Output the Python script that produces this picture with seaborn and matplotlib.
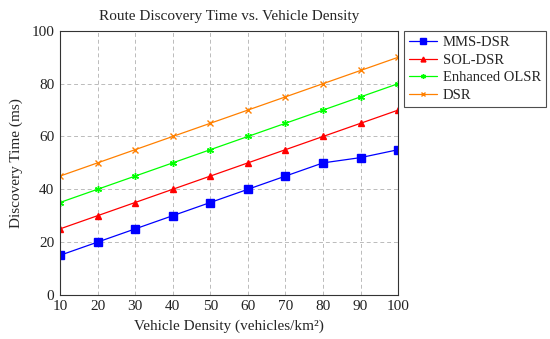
import matplotlib
matplotlib.use("Agg")
import matplotlib.pyplot as plt
import seaborn as sns
import pandas as pd

density = [10, 20, 30, 40, 50, 60, 70, 80, 90, 100]
mms_dsr = [15, 20, 25, 30, 35, 40, 45, 50, 52, 55]
sol_dsr = [25, 30, 35, 40, 45, 50, 55, 60, 65, 70]
enh_olsr = [35, 40, 45, 50, 55, 60, 65, 70, 75, 80]
dsr = [45, 50, 55, 60, 65, 70, 75, 80, 85, 90]
series_names = ["MMS-DSR", "SOL-DSR", "Enhanced OLSR", "DSR"]

sns.set_theme(style="white")
plt.rcParams['font.family'] = ['Liberation Serif', 'DejaVu Serif']

df = pd.DataFrame({
    "x": density * 4,
    "y": mms_dsr + sol_dsr + enh_olsr + dsr,
    "series": [n for n in series_names for _ in density],
})

colors = {"MMS-DSR": "#0000ff", "SOL-DSR": "#ff0000", "Enhanced OLSR": "#00ff00", "DSR": "#ff8000"}
markers = {"MMS-DSR": "s", "SOL-DSR": "^", "Enhanced OLSR": (6, 2, 0), "DSR": "x"}
msizes = {"MMS-DSR": 6, "SOL-DSR": 5, "Enhanced OLSR": 5, "DSR": 5}

fig = plt.figure(figsize=(5.5, 3.39), dpi=100)
ax = fig.add_axes([0.109, 0.130, 0.615, 0.779])

for name in series_names:
    sub = df[df.series == name]
    sns.lineplot(data=sub, x="x", y="y", ax=ax, color=colors[name], marker=markers[name],
                 markersize=msizes[name], markeredgecolor=colors[name], markerfacecolor=colors[name],
                 markeredgewidth=1.0, linewidth=0.9, label=name, legend=False)

ax.set_xlim(10, 100)
ax.set_ylim(0, 100)
ax.set_xticks(density)
ax.set_yticks([0, 20, 40, 60, 80, 100])
ax.grid(True, linestyle=(0, (4, 3)), color="#bbbbbb", linewidth=0.7)
for s in ax.spines.values():
    s.set_color("#333333")
    s.set_linewidth(0.8)
ax.tick_params(axis="both", labelsize=11, length=0, pad=4, colors="#222222")
ax.set_xlabel("Vehicle Density (vehicles/km²)", fontsize=11, labelpad=4)
ax.set_ylabel("Discovery Time (ms)", fontsize=11, labelpad=6)
ax.set_title("Route Discovery Time vs. Vehicle Density", fontsize=11, pad=8)

handles, labels = ax.get_legend_handles_labels()
leg = fig.legend(handles, labels, loc="upper left", bbox_to_anchor=(404/550, 1 - 31/339),
                 fontsize=10.5, frameon=True, fancybox=False, edgecolor="#222222",
                 borderpad=0.35, labelspacing=0.3, handlelength=1.9, handletextpad=0.4,
                 markerscale=0.7, borderaxespad=0)
leg.get_frame().set_linewidth(0.8)

fig.savefig("out.png", dpi=100)
